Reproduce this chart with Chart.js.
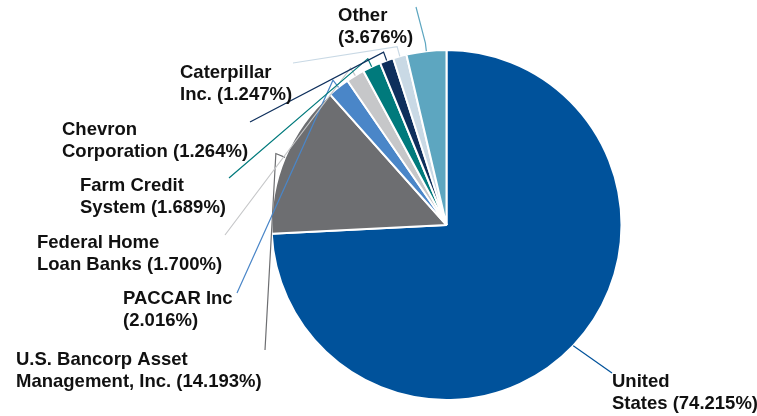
<!DOCTYPE html>
<html>
<head>
<meta charset="utf-8">
<script src="https://cdn.jsdelivr.net/npm/chart.js@4.4.1/dist/chart.umd.min.js"></script>
<style>
  html, body { margin: 0; padding: 0; background: #fff; }
  #wrap { width: 757px; height: 416px; }
</style>
</head>
<body>
<div id="wrap"><canvas id="pie" width="757" height="416"></canvas></div>
<script>
// data
const names = [
  'United States',
  'U.S. Bancorp Asset Management, Inc.',
  'PACCAR Inc',
  'Federal Home Loan Banks',
  'Farm Credit System',
  'Chevron Corporation',
  'Caterpillar Inc.',
  'Other'
];
const shares = [74.215, 14.193, 2.016, 1.700, 1.689, 1.264, 1.247, 3.676];
const labelLines = [
  ['United', 'States (74.215%)'],
  ['U.S. Bancorp Asset', 'Management, Inc. (14.193%)'],
  ['PACCAR Inc', '(2.016%)'],
  ['Federal Home', 'Loan Banks (1.700%)'],
  ['Farm Credit', 'System (1.689%)'],
  ['Chevron', 'Corporation (1.264%)'],
  ['Caterpillar', 'Inc. (1.247%)'],
  ['Other', '(3.676%)']
];
const colors = ['#00529b', '#6d6e71', '#4a86c8', '#c6c7c9', '#007a7c', '#0e2f5c', '#c9d9e5', '#5da6c0'];

// layout only: label position (left x, first baseline), leader start point, elbow offset past the rim
const labelAt = [[612, 387], [16, 365], [123, 304], [37, 248], [80, 191], [62, 135], [180, 78], [338, 21]];
const leaderFrom = [[612, 373], [265, 350], [237, 293], [225, 235], [229, 178], [250, 122], [293, 63], [416, 7]];
const elbowOut = [0, 10, 9, 9, 9, 9, 10, 8];

const leaders = {
  id: 'leaders',
  afterDatasetsDraw(chart) {
    const ctx = chart.ctx;
    const meta = chart.getDatasetMeta(0);
    ctx.save();
    meta.data.forEach((arc, i) => {
      const p = arc.getProps(['x', 'y', 'startAngle', 'endAngle', 'outerRadius'], true);
      const mid = (p.startAngle + p.endAngle) / 2;
      const ex = p.x + Math.cos(mid) * p.outerRadius;
      const ey = p.y + Math.sin(mid) * p.outerRadius;
      const bx = p.x + Math.cos(mid) * (p.outerRadius + elbowOut[i]);
      const by = p.y + Math.sin(mid) * (p.outerRadius + elbowOut[i]);
      ctx.beginPath();
      ctx.moveTo(leaderFrom[i][0], leaderFrom[i][1]);
      ctx.lineTo(bx, by);
      ctx.lineTo(ex, ey);
      ctx.strokeStyle = colors[i];
      ctx.lineWidth = 1.2;
      ctx.stroke();
    });
    ctx.fillStyle = '#111';
    ctx.font = 'bold 18.5px "Liberation Sans", Arial, sans-serif';
    ctx.textBaseline = 'alphabetic';
    ctx.textAlign = 'left';
    labelLines.forEach((lines, i) => {
      lines.forEach((t, j) => ctx.fillText(t, labelAt[i][0], labelAt[i][1] + j * 22));
    });
    ctx.restore();
  }
};

new Chart(document.getElementById('pie'), {
  type: 'pie',
  data: {
    labels: names,
    datasets: [{
      data: shares,
      backgroundColor: colors,
      borderColor: '#ffffff',
      borderWidth: 2
    }]
  },
  options: {
    responsive: false,
    animation: false,
    layout: { padding: { left: 270, right: 134, top: 49, bottom: 15 } },
    plugins: {
      legend: { display: false },
      tooltip: { enabled: false }
    }
  },
  plugins: [leaders]
});
</script>
</body>
</html>
